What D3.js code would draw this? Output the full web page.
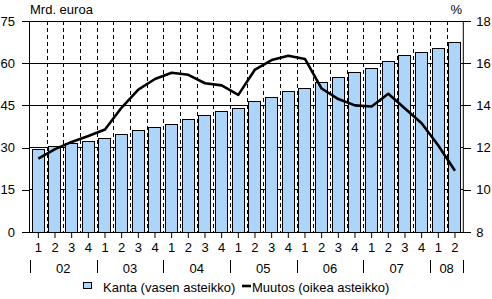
<!DOCTYPE html>
<html><head><meta charset="utf-8">
<script src="https://cdn.jsdelivr.net/npm/d3@7/dist/d3.min.js"></script>
<style>body{margin:0;background:#fff}svg{display:block}text{font-family:"Liberation Sans",Arial,sans-serif;font-size:13px;fill:#000}</style>
</head><body>
<script>
const quarters = ["1","2","3","4","1","2","3","4","1","2","3","4","1","2","3","4","1","2","3","4","1","2","3","4","1","2"];
const years = ["02","03","04","05","06","07","08"];
const kanta = [29.4,30.6,31.7,32.3,33.3,34.7,36.3,37.2,38.3,40.2,41.5,42.9,44.0,46.6,48.1,50.1,51.1,53.2,55.0,56.8,58.2,60.8,62.9,64.1,65.3,67.4];
const muutos = [11.48,11.93,12.27,12.55,12.86,13.9,14.75,15.25,15.55,15.45,15.05,14.95,14.5,15.7,16.15,16.35,16.2,14.8,14.3,14.0,13.95,14.55,13.85,13.15,12.1,10.9];
const leftTicks = [0,15,30,45,60,75];
const rightTicks = [8,10,12,14,16,18];

const W=492,H=299, L=30, R=463.3, T=21, B=232;
const svg=d3.select("body").append("svg").attr("width",W).attr("height",H);
const idx=d3.range(kanta.length);
const x=d3.scaleBand().domain(idx).range([L,R]).paddingInner(0.2).paddingOuter(0.1);
const step=x.step();
const yL=d3.scaleLinear().domain([0,75]).range([B,T]);
const yR=d3.scaleLinear().domain([8,18]).range([B,T]);

// horizontal gridlines
svg.append("g").selectAll("line").data(leftTicks.slice(1)).join("line")
 .attr("x1",L).attr("x2",R).attr("y1",d=>yL(d)).attr("y2",d=>yL(d))
 .attr("stroke","#000").attr("shape-rendering","crispEdges");
// dashed verticals
svg.append("g").selectAll("line").data(d3.range(1,kanta.length)).join("line")
 .attr("x1",d=>Math.round(L+d*step)+0.5).attr("x2",d=>Math.round(L+d*step)+0.5)
 .attr("y1",T).attr("y2",B).attr("stroke","#000").attr("stroke-dasharray","4,3");
// bars
svg.append("g").selectAll("rect").data(kanta).join("rect")
 .attr("x",(d,i)=>Math.round(x(i))+0.5).attr("width",Math.round(x.bandwidth())-1)
 .attr("y",d=>Math.round(yL(d))+0.5).attr("height",d=>B-Math.round(yL(d)))
 .attr("fill","#abd5fa").attr("stroke","#000");

// axes
const axL=svg.append("g").attr("transform",`translate(${L},0)`)
 .call(d3.axisLeft(yL).tickValues(leftTicks).tickSize(8).tickPadding(7));
const axR=svg.append("g").attr("transform",`translate(${R},0)`)
 .call(d3.axisRight(yR).tickValues(rightTicks).tickSize(8).tickPadding(5));
const axB=svg.append("g").attr("transform",`translate(0,${B})`)
 .call(d3.axisBottom(x).tickFormat(i=>quarters[i]).tickSize(6).tickPadding(5));
[axL,axR,axB].forEach(a=>{a.select(".domain").remove();a.selectAll("line").attr("stroke","#000");a.selectAll("text").attr("font-size",13).attr("font-family","Liberation Sans, Arial, sans-serif");});
axL.selectAll("line").attr("shape-rendering","crispEdges");
axR.selectAll("line").attr("shape-rendering","crispEdges");
svg.append("line").attr("x1",L-0.5).attr("x2",L-0.5).attr("y1",T).attr("y2",B).attr("stroke","#000");
svg.append("line").attr("x1",R).attr("x2",R).attr("y1",T).attr("y2",B).attr("stroke","#000");
svg.append("line").attr("x1",L).attr("x2",R).attr("y1",B+0.5).attr("y2",B+0.5).attr("stroke","#000");

// year labels
const yearStart=[0,4,8,12,16,20,24];
const yearLen=[4,4,4,4,4,4,2];
svg.append("g").selectAll("text").data(years).join("text")
 .attr("x",(d,i)=>L+(yearStart[i]+yearLen[i]/2)*step).attr("y",272.5)
 .attr("text-anchor","middle").text(d=>d);
svg.append("g").selectAll("line").data([0,4,8,12,16,20,24,26]).join("line")
 .attr("x1",d=>Math.round(L+d*step)+0.5).attr("x2",d=>Math.round(L+d*step)+0.5)
 .attr("y1",260).attr("y2",273).attr("stroke","#000");

// line
svg.append("path").datum(muutos)
 .attr("d",d3.line().x((d,i)=>x(i)+x.bandwidth()/2).y(d=>yR(d)))
 .attr("fill","none").attr("stroke","#000").attr("stroke-width",2.6).attr("stroke-linejoin","round");

// titles
svg.append("text").attr("x",30).attr("y",14).text("Mrd. euroa");
svg.append("text").attr("x",462).attr("y",14).attr("text-anchor","end").text("%");

// legend
svg.append("rect").attr("x",83.5).attr("y",282.5).attr("width",8).attr("height",6).attr("fill","#abd5fa").attr("stroke","#000");
svg.append("text").attr("x",103).attr("y",292).text("Kanta (vasen asteikko)");
svg.append("line").attr("x1",242).attr("x2",251).attr("y1",286).attr("y2",286).attr("stroke","#000").attr("stroke-width",2.6);
svg.append("text").attr("x",252).attr("y",292).text("Muutos (oikea asteikko)");
</script>
</body></html>
